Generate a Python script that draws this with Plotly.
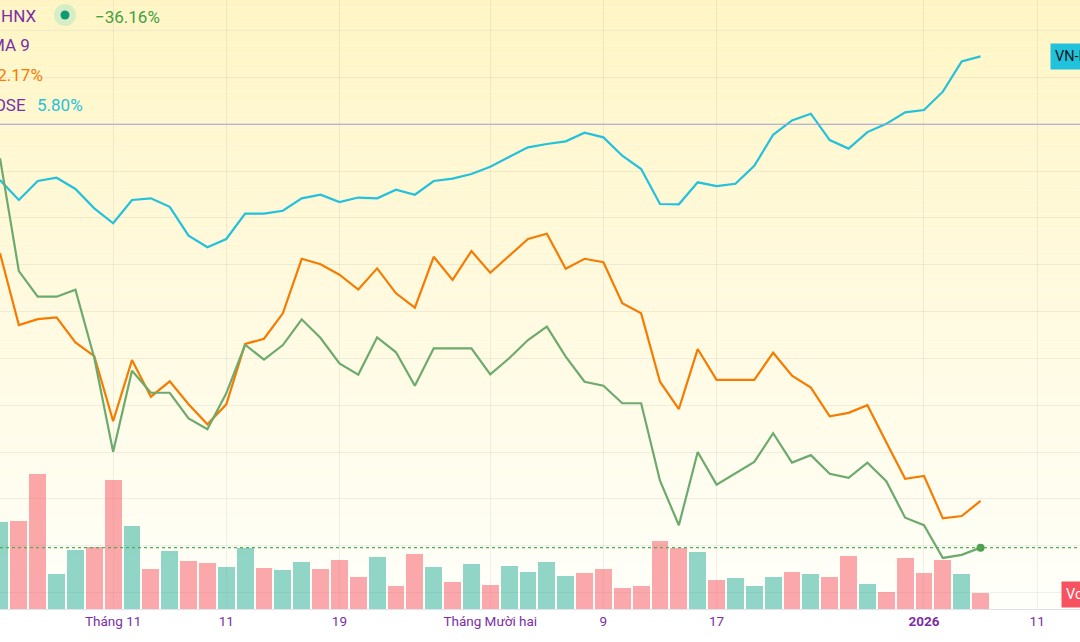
import plotly.graph_objects as go

# ---------------- data ----------------
dates = [
    "2025-10-24", "2025-10-27", "2025-10-28", "2025-10-29", "2025-10-30", "2025-10-31",
    "2025-11-03", "2025-11-04", "2025-11-05", "2025-11-06", "2025-11-07",
    "2025-11-10", "2025-11-11", "2025-11-12", "2025-11-13", "2025-11-14",
    "2025-11-17", "2025-11-18", "2025-11-19", "2025-11-20", "2025-11-21",
    "2025-11-24", "2025-11-25", "2025-11-26", "2025-11-27", "2025-11-28",
    "2025-12-01", "2025-12-02", "2025-12-03", "2025-12-04", "2025-12-05",
    "2025-12-08", "2025-12-09", "2025-12-10", "2025-12-11", "2025-12-12",
    "2025-12-15", "2025-12-16", "2025-12-17", "2025-12-18", "2025-12-19",
    "2025-12-22", "2025-12-23", "2025-12-24", "2025-12-25", "2025-12-26",
    "2025-12-29", "2025-12-30", "2025-12-31",
    "2026-01-02", "2026-01-05", "2026-01-06", "2026-01-07",
]

# % change series
vnindex_pct = [
    -4.77, -6.47, -4.85, -4.57, -5.53, -7.18, -8.46, -6.47, -6.33, -7.05,
    -9.52, -10.51, -9.80, -7.64, -7.64, -7.39, -6.33, -6.02, -6.64, -6.26,
    -6.33, -5.59, -6.02, -4.85, -4.65, -4.25, -3.63, -2.78, -1.97, -1.69,
    -1.46, -0.73, -1.12, -2.69, -3.83, -6.81, -6.84, -4.96, -5.28, -5.08,
    -3.55, -0.90, 0.32, 0.90, -1.35, -2.08, -0.67, 0.03, 1.02, 1.21,
    2.78, 5.37, 5.80,
]
index2_pct = [
    -11.02, -17.15, -16.64, -16.49, -18.63, -19.80, -25.35, -20.14, -23.27, -21.96,
    -23.92, -25.63, -23.92, -18.77, -18.32, -16.15, -11.49, -11.96, -12.85, -14.12,
    -12.31, -14.44, -15.67, -11.32, -13.30, -10.83, -12.68, -11.26, -9.80, -9.35,
    -12.34, -11.49, -11.79, -15.29, -16.15, -21.99, -24.32, -19.20, -21.83, -21.83,
    -21.83, -19.51, -21.48, -22.49, -24.94, -24.65, -23.99, -27.16, -30.28, -30.03,
    -33.66, -33.46, -32.17,
]
hnx_pct = [
    -2.90, -12.54, -14.73, -14.73, -14.13, -19.97, -27.97, -21.05, -22.93, -22.93,
    -25.12, -26.05, -22.98, -18.83, -20.11, -18.86, -16.66, -18.26, -20.42, -21.38,
    -18.20, -19.48, -22.33, -19.14, -19.14, -19.14, -21.36, -19.99, -18.43, -17.29,
    -19.85, -21.99, -22.33, -23.83, -23.83, -30.44, -34.25, -27.99, -30.78, -29.82,
    -28.84, -26.39, -28.90, -28.26, -29.85, -30.20, -28.90, -30.49, -33.60, -34.24,
    -37.04, -36.78, -36.16,
]

# volume (millions of shares) and candle direction (1 = up, 0 = down)
volume = [
    39.2, 39.6, 60.8, 15.8, 26.6, 27.9, 58.1, 37.4, 18.0, 26.1,
    21.6, 20.7, 18.9, 27.5, 18.5, 17.6, 21.2, 18.0, 22.1, 14.4,
    23.4, 10.4, 24.8, 18.9, 12.2, 20.3, 10.8, 19.4, 16.7, 21.2,
    14.9, 16.2, 18.0, 9.5, 10.4, 30.6, 27.5, 25.7, 13.1, 14.0,
    10.4, 14.4, 16.7, 15.8, 14.4, 23.9, 11.3, 7.7, 23.0, 16.2,
    22.1, 15.8, 7.2,
]
vol_up = [
    1, 0, 0, 1, 1, 0, 0, 1, 0, 1,
    0, 0, 1, 1, 0, 1, 1, 0, 0, 0,
    1, 0, 0, 1, 0, 1, 0, 1, 1, 1,
    1, 0, 0, 0, 0, 0, 0, 1, 0, 1,
    1, 1, 0, 1, 0, 0, 1, 0, 0, 0,
    0, 1, 0,
]

tick_idx = [6, 12, 18, 26, 32, 38, 49, 55]
tick_text = ["Tháng 11", "11", "19", "Tháng Mười hai", "9", "17", "<b>2026</b>", "11"]

legend_hnx = "HNX"
legend_hnx_val = "−36.16%"
legend_ma = "MA 9"
legend_idx2_val = "−32.17%"
legend_hose = "HOSE"
legend_hose_val = "5.80%"

# ---------------- styling ----------------
W, H = 1080, 642
PLOT_H = 609
FONT = "Roboto, 'Open Sans', sans-serif"
CYAN = "#22c1dc"
ORANGE = "#f57c00"
GREEN = "#6caa6e"
PURPLE = "#7b2fa6"
GRID = "rgba(42,46,57,0.07)"

x = list(range(len(dates)))

fig = go.Figure()

bar_colors = ["rgba(34,171,148,0.5)" if u else "rgba(247,82,95,0.5)" for u in vol_up]
fig.add_trace(go.Bar(x=x, y=volume, marker=dict(color=bar_colors, line=dict(width=0)),
                     width=0.9, yaxis="y2", name="Volume", showlegend=False))

fig.add_trace(go.Scatter(x=x, y=vnindex_pct, mode="lines", line=dict(color=CYAN, width=2.2),
                         name="VN-Index", showlegend=False))
fig.add_trace(go.Scatter(x=x, y=index2_pct, mode="lines", line=dict(color=ORANGE, width=2.2),
                         name="Index", showlegend=False))
fig.add_trace(go.Scatter(x=x, y=hnx_pct, mode="lines", line=dict(color=GREEN, width=2.2),
                         name="HNX", showlegend=False))
fig.add_trace(go.Scatter(x=[x[-1]], y=[hnx_pct[-1]], mode="markers",
                         marker=dict(color="#4e9f52", size=8), showlegend=False))

def px(xp):
    return xp / W

def py(yp):
    return 1 - yp / PLOT_H

shapes = []
# background gradient
N = 80
top = (255, 245, 196)
bot = (255, 255, 250)
for i in range(N):
    t = i / (N - 1)
    c = tuple(round(top[k] + (bot[k] - top[k]) * t) for k in range(3))
    shapes.append(dict(type="rect", xref="paper", yref="paper", x0=0, x1=1,
                       y0=1 - (i + 1) / N, y1=1 - i / N, layer="below",
                       fillcolor="rgb(%d,%d,%d)" % c, line=dict(width=0)))
# zero line
shapes.append(dict(type="line", xref="paper", yref="y", x0=0, x1=1, y0=0, y1=0,
                   line=dict(color="#a3a0da", width=1)))
# dotted last-value line of HNX
shapes.append(dict(type="line", xref="paper", yref="y", x0=0, x1=1,
                   y0=hnx_pct[-1], y1=hnx_pct[-1],
                   line=dict(color="#4caf50", width=1.2, dash="dot")))
# legend status icon
shapes.append(dict(type="circle", xref="paper", yref="paper", xsizemode="pixel", ysizemode="pixel",
                   xanchor=px(65), yanchor=py(15), x0=-11, x1=11, y0=-11, y1=11,
                   fillcolor="#d6edc6", line=dict(width=0)))
shapes.append(dict(type="circle", xref="paper", yref="paper", xsizemode="pixel", ysizemode="pixel",
                   xanchor=px(65), yanchor=py(15), x0=-4.5, x1=4.5, y0=-4.5, y1=4.5,
                   fillcolor="#0f9a74", line=dict(width=0)))

ann = []
def label(text, xp, yp, color, anchor="left", size=17):
    ann.append(dict(text=text, xref="paper", yref="paper", x=px(xp), y=py(yp),
                    xanchor=anchor, yanchor="middle", showarrow=False,
                    font=dict(family=FONT, size=size, color=color)))

label(legend_hnx, -1, 16, PURPLE)
label(legend_hnx_val, 93, 17, "#43a047")
label(legend_ma, 32, 45, PURPLE, anchor="right")
label(legend_idx2_val, 45, 75, ORANGE, anchor="right")
label(legend_hose, 28, 105, PURPLE, anchor="right")
label(legend_hose_val, 35, 105, CYAN)

# right-edge price labels (cut by the window edge)
ann.append(dict(text="VN-Index", xref="paper", yref="paper", x=px(1050), y=py(56),
                xanchor="left", yanchor="middle", showarrow=False, bgcolor="#22c1dc",
                borderpad=4, font=dict(family=FONT, size=14.5, color="#131722")))
ann.append(dict(text="Volume", xref="paper", yref="paper", x=px(1061), y=py(594),
                xanchor="left", yanchor="middle", showarrow=False, bgcolor="#f7525f",
                borderpad=4, font=dict(family=FONT, size=14.5, color="#ffffff")))

fig.update_layout(
    width=W, height=H,
    margin=dict(l=0, r=0, t=0, b=H - PLOT_H),
    paper_bgcolor="#ffffff",
    plot_bgcolor="rgba(0,0,0,0)",
    shapes=shapes,
    annotations=ann,
    bargap=0,
    showlegend=False,
    xaxis=dict(range=[0, W / 18.857], tickmode="array", tickvals=tick_idx, ticktext=tick_text,
               showgrid=True, gridcolor=GRID, gridwidth=1, zeroline=False,
               showline=True, linecolor="#e0e3eb", linewidth=1, ticks="",
               tickfont=dict(family=FONT, size=13.5, color=PURPLE), fixedrange=True),
    yaxis=dict(range=[-41.40, 10.61], tick0=0, dtick=4, showticklabels=False,
               showgrid=True, gridcolor=GRID, gridwidth=1, zeroline=False, fixedrange=True),
    yaxis2=dict(range=[0, 274.05], overlaying="y", visible=False, showgrid=False,
                fixedrange=True),
)

fig.write_html("out.html")
